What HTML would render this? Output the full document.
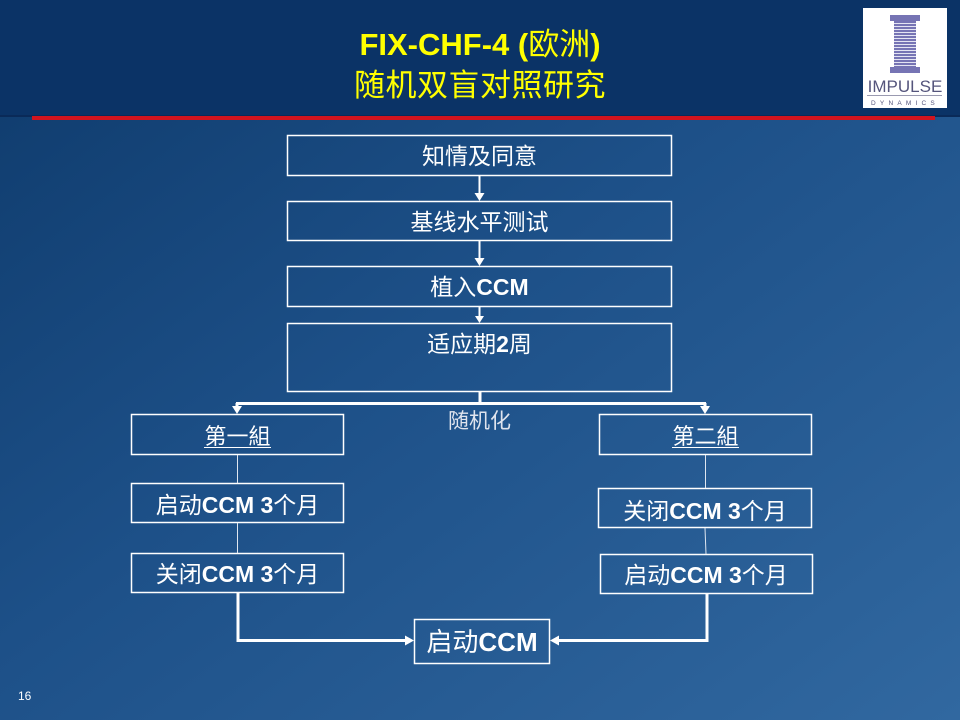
<!DOCTYPE html>
<html>
<head>
<meta charset="utf-8">
<style>
html,body{margin:0;padding:0;width:960px;height:720px;overflow:hidden;background:#0b3366;}
svg{display:block;}
text{font-family:"Liberation Sans","Noto Sans CJK SC","WenQuanYi Zen Hei",sans-serif;}
</style>
</head>
<body>
<svg width="960" height="720" viewBox="0 0 960 720" xmlns="http://www.w3.org/2000/svg">
<defs>
<linearGradient id="bg" x1="0" y1="0" x2="1" y2="1">
<stop offset="0" stop-color="#0e3a6b"/>
<stop offset="0.45" stop-color="#1d5088"/>
<stop offset="1" stop-color="#3168a0"/>
</linearGradient>
<pattern id="stripes" x="0" y="0" width="4" height="3" patternUnits="userSpaceOnUse">
<rect x="0" y="0" width="4" height="2" fill="#7674b4"/>
<rect x="0" y="2" width="4" height="1" fill="#e4e4f2"/>
</pattern>
</defs>

<!-- background -->
<rect x="0" y="0" width="960" height="720" fill="url(#bg)"/>
<rect x="0" y="0" width="960" height="116" fill="#0b3366"/>
<rect x="0" y="115" width="960" height="2" fill="#0a2a58"/>
<rect x="32" y="116" width="903" height="4" fill="#d2141e"/>

<!-- title -->
<text x="480" y="55" text-anchor="middle" font-size="31" font-weight="bold" fill="#ffff00">FIX-CHF-4 (<tspan font-weight="normal">欧洲</tspan>)</text>
<text x="480" y="96" text-anchor="middle" font-size="31" letter-spacing="0.5" fill="#ffff00">随机双盲对照研究</text>

<!-- logo -->
<rect x="863" y="8" width="84" height="100" fill="#ffffff"/>
<rect x="890" y="15" width="30" height="6" fill="#7674b4"/>
<rect x="894" y="21" width="22" height="46" fill="url(#stripes)"/>
<rect x="890" y="67" width="30" height="6" fill="#7674b4"/>
<text x="905" y="92" text-anchor="middle" font-size="17" fill="#55557c">IMPULSE</text>
<rect x="867" y="95" width="75" height="1" fill="#9a9ab0"/>
<text x="905" y="105" text-anchor="middle" font-size="6.5" letter-spacing="4.2" fill="#55557c">DYNAMICS</text>

<!-- boxes -->
<g fill="none" stroke="#ffffff" stroke-width="1.5">
<rect x="287.5" y="135.5" width="384" height="40"/>
<rect x="287.5" y="201.5" width="384" height="39"/>
<rect x="287.5" y="266.5" width="384" height="40"/>
<rect x="287.5" y="323.5" width="384" height="68"/>
<rect x="131.5" y="414.5" width="212" height="40"/>
<rect x="599.5" y="414.5" width="212" height="40"/>
<rect x="131.5" y="483.5" width="212" height="39"/>
<rect x="131.5" y="553.5" width="212" height="39"/>
<rect x="598.5" y="488.5" width="213" height="39"/>
<rect x="600.5" y="554.5" width="212" height="39"/>
<rect x="414.5" y="619.5" width="135" height="44"/>
</g>

<!-- top chain arrows -->
<g stroke="#ffffff" stroke-width="2">
<line x1="479.5" y1="176" x2="479.5" y2="194"/>
<line x1="479.5" y1="241" x2="479.5" y2="259"/>
<line x1="479.5" y1="307" x2="479.5" y2="317"/>
</g>
<g fill="#ffffff">
<polygon points="474.5,193 484.5,193 479.5,201"/>
<polygon points="474.5,258 484.5,258 479.5,266"/>
<polygon points="475,316 484,316 479.5,323"/>
</g>

<!-- branch -->
<g stroke="#ffffff" stroke-width="3" fill="none">
<line x1="480" y1="392" x2="480" y2="404"/>
<line x1="236" y1="403.5" x2="706" y2="403.5"/>
<line x1="237" y1="403" x2="237" y2="408"/>
<line x1="705" y1="403" x2="705" y2="408"/>
</g>
<g fill="#ffffff">
<polygon points="232,406 242,406 237,414"/>
<polygon points="700,406 710,406 705,414"/>
</g>

<!-- thin vertical connectors -->
<g stroke="#dfe6f0" stroke-width="1">
<line x1="237.5" y1="455" x2="237.5" y2="483"/>
<line x1="237.5" y1="523" x2="237.5" y2="553"/>
<line x1="705.5" y1="455" x2="705.5" y2="488"/>
<line x1="705" y1="528" x2="706" y2="554"/>
</g>

<!-- bottom connectors -->
<g stroke="#ffffff" stroke-width="3" fill="none">
<polyline points="238,593 238,640.5 407,640.5"/>
<polyline points="707,594 707,640.5 557,640.5"/>
</g>
<g fill="#ffffff">
<polygon points="405,635.5 414,640.5 405,645.5"/>
<polygon points="559,635.5 550,640.5 559,645.5"/>
</g>

<!-- box texts -->
<g fill="#ffffff" text-anchor="middle">
<text x="479.5" y="164" font-size="23">知情及同意</text>
<text x="479.5" y="230" font-size="23">基线水平测试</text>
<text x="479.5" y="295" font-size="23">植入<tspan font-weight="bold">CCM</tspan></text>
<text x="479.5" y="352" font-size="23">适应期<tspan font-weight="bold">2</tspan>周</text>

<text x="237.5" y="444" font-size="22">第一組</text>
<text x="705.5" y="444" font-size="22">第二組</text>

<text x="237.5" y="513" font-size="23">启动<tspan font-weight="bold">CCM 3</tspan>个月</text>
<text x="237.5" y="582" font-size="23">关闭<tspan font-weight="bold">CCM 3</tspan>个月</text>
<text x="705" y="519" font-size="23">关闭<tspan font-weight="bold">CCM 3</tspan>个月</text>
<text x="706" y="583" font-size="23">启动<tspan font-weight="bold">CCM 3</tspan>个月</text>

<text x="482" y="651" font-size="26">启动<tspan font-weight="bold">CCM</tspan></text>
</g>
<text x="479.5" y="428" text-anchor="middle" font-size="21" fill="#dfe4ee">随机化</text>

<!-- underlines -->
<g stroke="#ffffff" stroke-width="1">
<line x1="204" y1="447.5" x2="271" y2="447.5"/>
<line x1="672" y1="447.5" x2="739" y2="447.5"/>
</g>

<!-- page number -->
<text x="18" y="700" font-size="12" fill="#ffffff">16</text>
</svg>
</body>
</html>
